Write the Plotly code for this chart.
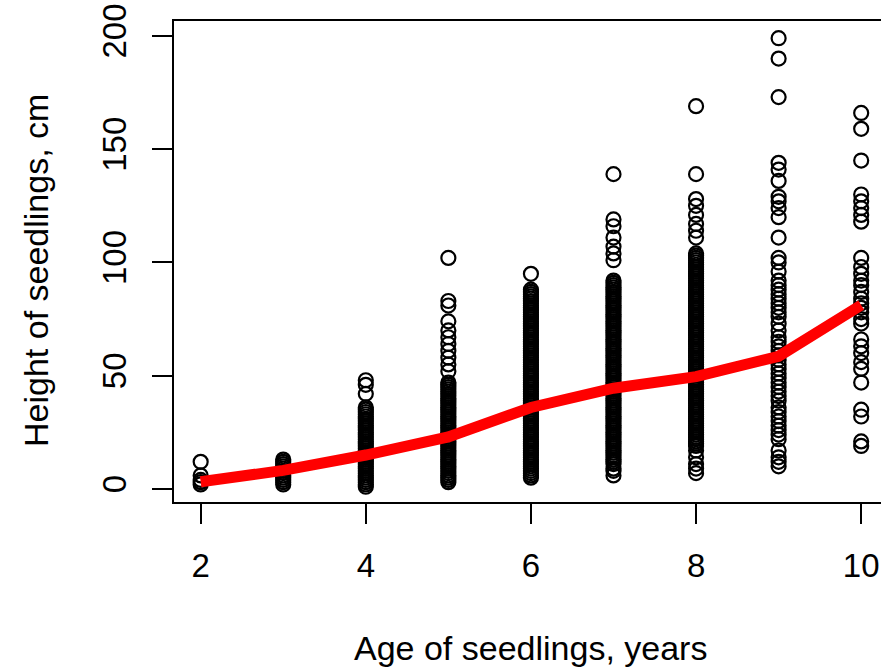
import plotly.graph_objects as go

# Heights (cm) of seedlings, grouped by age (years)
age_2 = [12, 6, 4, 3, 2]
age_3 = [13, 12, 11, 10, 9, 8, 7, 6, 5, 4, 3, 2]
age_4 = [48, 46, 42, 36, 35, 34, 33, 32, 31, 30, 29, 28, 27, 26, 25, 24, 23, 22, 21, 20,
         19, 18, 17, 16, 15, 14, 13, 12, 11, 10, 9, 8, 7, 6, 5, 4, 3, 2, 1]
age_5 = [102, 83, 81, 74, 70, 67, 64, 61, 58, 55, 52,
         47, 46, 45, 44, 43, 42, 41, 40, 39, 38, 37, 36, 35, 34, 33, 32, 31, 30, 29, 28,
         27, 26, 25, 24, 23, 22, 21, 20, 19, 18, 17, 16, 15, 14, 13, 12, 11, 10, 9, 8,
         7, 6, 5, 4, 3]
age_6 = [95, 88, 87, 86, 85, 84, 83, 82, 81, 80, 79, 78, 77, 76, 75, 74, 73, 72, 71, 70,
         69, 68, 67, 66, 65, 64, 63, 62, 61, 60, 59, 58, 57, 56, 55, 54, 53, 52, 51, 50,
         49, 48, 47, 46, 45, 44, 43, 42, 41, 40, 39, 38, 37, 36, 35, 34, 33, 32, 31, 30,
         29, 28, 27, 26, 25, 24, 23, 22, 21, 20, 19, 18, 17, 16, 15, 14, 13, 12, 11, 10,
         9, 8, 7, 6, 5]
age_7 = [139, 119, 116, 111, 107, 104, 101,
         92, 91, 90, 89, 88, 87, 86, 85, 84, 83, 82, 81, 80, 79, 78, 77, 76, 75, 74, 73,
         72, 71, 70, 69, 68, 67, 66, 65, 64, 63, 62, 61, 60, 59, 58, 57, 56, 55, 54, 53,
         52, 51, 50, 49, 48, 47, 46, 45, 44, 43, 42, 41, 40, 39, 38, 37, 36, 35, 34, 33,
         32, 31, 30, 29, 28, 27, 26, 25, 24, 23, 22, 21, 20, 19, 18, 17, 16, 15, 14, 13,
         12, 11, 9, 8, 6]
age_8 = [169, 139, 128, 125, 121, 117, 114, 111,
         104, 103, 102, 101, 100, 99, 98, 97, 96, 95, 94, 93, 92, 91, 90, 89, 88, 87, 86,
         85, 84, 83, 82, 81, 80, 79, 78, 77, 76, 75, 74, 73, 72, 71, 70, 69, 68, 67, 66,
         65, 64, 63, 62, 61, 60, 59, 58, 57, 56, 55, 54, 53, 52, 51, 50, 49, 48, 47, 46,
         45, 44, 43, 42, 41, 40, 39, 38, 37, 36, 35, 34, 33, 32, 31, 30, 29, 28, 27, 26,
         25, 24, 23, 22, 21, 20, 19, 17, 14, 11, 9, 7]
age_9 = [199, 190, 173, 144, 141, 136, 129, 127, 124, 120, 111, 102, 100, 96,
         92, 90, 88, 86, 84, 82, 80, 78, 76, 73, 70, 67, 65, 63, 61, 59, 57, 55, 53,
         51, 49, 47, 45, 43, 41, 39, 36, 34, 32, 30, 28, 26, 24, 22, 17, 14, 12, 10]
age_10 = [166, 159, 145, 130, 127, 124, 121, 118, 102, 98, 95, 92, 90, 87, 84, 82, 80,
          78, 75, 73, 66, 63, 60, 56, 53, 47, 35, 32, 21, 19]

groups = [(2, age_2), (3, age_3), (4, age_4), (5, age_5), (6, age_6),
          (7, age_7), (8, age_8), (9, age_9), (10, age_10)]

# Smoothed trend (red line)
trend_ages = [2, 3, 4, 5, 6, 7, 8, 9, 10]
trend_heights = [3.2, 8.2, 15, 23, 36, 44.5, 49.6, 58.6, 81.2]

x_ticks = [2, 4, 6, 8, 10]
y_ticks = [0, 50, 100, 150, 200]

xs, ys = [], []
for a, vals in groups:
    xs.extend([a] * len(vals))
    ys.extend(vals)

FONT = "Liberation Sans, Arial, sans-serif"

fig = go.Figure()
fig.add_trace(go.Scatter(
    x=xs, y=ys, mode="markers",
    marker=dict(symbol="circle-open", size=14, color="black",
                line=dict(color="black", width=2.2)),
    showlegend=False, hoverinfo="skip"))
fig.add_trace(go.Scatter(
    x=trend_ages, y=trend_heights, mode="lines",
    line=dict(color="#ff0000", width=11),
    showlegend=False, hoverinfo="skip"))

L, R, T, B = 174, 0, 21, 168
W, H = 881, 670
pw = W - L - R
ph = H - T - B

fig.update_layout(
    width=W, height=H,
    margin=dict(l=L, r=R, t=T, b=B, pad=0),
    paper_bgcolor="white", plot_bgcolor="white",
    font=dict(family=FONT, size=33, color="black"),
    xaxis=dict(range=[1.677, 10.24], tickvals=x_ticks, ticktext=[str(v) for v in x_ticks],
               showgrid=False, zeroline=False, showline=True, linecolor="black",
               linewidth=2, mirror=True, ticks="outside", ticklen=20, tickwidth=2,
               tickcolor="black", ticklabelstandoff=13,
               tickfont=dict(family=FONT, size=33, color="black")),
    yaxis=dict(range=[-5.74, 206.6], tickvals=y_ticks, ticktext=[str(v) for v in y_ticks],
               showgrid=False, zeroline=False, showline=True, linecolor="black",
               linewidth=2, mirror=False, ticks="outside", ticklen=20, tickwidth=2,
               tickcolor="black", tickangle=-90, ticklabelstandoff=13,
               tickfont=dict(family=FONT, size=33, color="black")),
    annotations=[
        dict(text="Age of seedlings, years", xref="paper", yref="paper",
             x=(530.5 - L) / pw, y=(H - B - 648) / ph, xanchor="center", yanchor="middle",
             showarrow=False, font=dict(family=FONT, size=34, color="black")),
        dict(text="Height of seedlings, cm", xref="paper", yref="paper",
             x=(36 - L) / pw, y=(H - B - 271) / ph, xanchor="center", yanchor="middle",
             textangle=-90, showarrow=False, font=dict(family=FONT, size=34, color="black")),
    ],
)

fig.write_html("out.html")
